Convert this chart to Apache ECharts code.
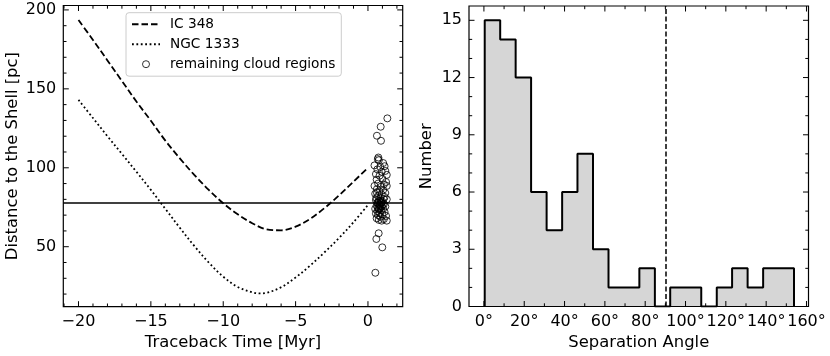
<!DOCTYPE html>
<html>
<head>
<meta charset="utf-8">
<script src="https://cdn.jsdelivr.net/npm/echarts@6/dist/echarts.min.js"></script>
<style>
  html, body { margin: 0; padding: 0; background: #fff; }
  #chart { width: 830px; height: 356px; }
</style>
</head>
<body>
<div id="chart"></div>
<script>
// --- left panel: traceback curves ---
const icTime   = [-20, -19, -18, -17, -16, -15, -14, -13, -12, -11, -10, -9, -8, -7, -6, -5, -4, -3, -2, -1, 0];
const ic348    = [193.6, 181, 168, 155, 142, 129.8, 117.2, 106, 95.5, 86, 77.5, 70.5, 64.9, 61, 60.4, 62.7, 67.6, 74.5, 82.5, 91.2, 100];
const ngcTime  = [-20, -19, -18, -17, -16, -15, -14, -13, -12, -11, -10, -9, -8, -7.5, -7, -6, -5, -4, -3, -2, -1, 0];
const ngc1333  = [143, 131.5, 120, 108.8, 97.5, 86, 74, 62, 50.5, 40, 31, 24.5, 21.2, 20.4, 20.8, 24.3, 30.5, 38, 46.5, 55.5, 65.5, 76.5];
const shellLevel = 78;

// remaining cloud regions (time, distance)
const cloudT = [1.34, 0.88, 0.62, 0.90, 0.51, 0.99, 0.58, 0.74,
  0.72, 0.68, 0.75, 0.45, 1.05, 1.15, 0.85, 0.65, 1.20, 0.95, 0.55, 1.30, 0.80, 1.00, 0.60, 1.25,
  0.70, 1.10, 0.45, 0.90, 1.30, 0.62, 1.05, 0.80, 1.20, 0.50, 0.95, 0.70, 1.15, 0.85, 1.30, 0.55,
  0.75, 1.00, 0.65, 0.90, 1.10, 0.80, 0.60, 0.95, 0.70, 1.20, 0.85, 0.50, 1.05, 0.75, 0.90, 0.65,
  1.15, 0.80, 0.55, 1.00, 0.70, 1.25, 0.85, 0.60, 1.10, 0.75, 0.95, 1.30, 0.68, 0.78, 0.88, 0.72,
  0.82, 0.92, 1.02, 0.58, 1.08, 0.62];
const cloudD = [131.3, 126, 120.3, 117.1, 33.5, 49.6, 54.9, 58.5,
  106.5, 105.5, 104.8, 101.5, 103, 101, 100.5, 99, 98, 97.5, 96, 95.5, 95, 93, 92.5, 91,
  90, 89.5, 88.5, 88, 88.5, 86.5, 86, 85, 84, 83.5, 83, 82, 81.5, 80.5, 80, 79.5,
  79, 78.5, 78, 77.5, 77, 76.5, 76, 75.5, 75, 75.5, 74.5, 74, 74, 73.5, 73, 72.5,
  72, 71.5, 71, 70.5, 70, 69.5, 69, 68, 67.5, 67, 66.5, 66.5, 77.8, 78.6, 79.2, 74.2,
  76, 78.2, 76.8, 80.8, 80.2, 84.2];

// --- right panel: separation angle histogram ---
const binEdges = [0.4, 8.07, 15.74, 23.4, 31.1, 38.8, 46.4, 54.1, 61.8, 69.4, 77.1,
  84.8, 92.4, 100.1, 107.8, 115.5, 123.1, 130.8, 138.5, 146.1, 153.8];
const binCounts = [15, 14, 12, 6, 4, 6, 8, 3, 1, 1, 2, 0, 1, 1, 0, 1, 2, 1, 2, 2];
const splitAngle = 90;

// tick values
const leftXMajor  = [-20, -15, -10, -5, 0];
const leftYMajor  = [50, 100, 150, 200];
const rightXMajor = [0, 20, 40, 60, 80, 100, 120, 140, 160];
const rightYMajor = [0, 3, 6, 9, 12, 15];

const FONT = 'DejaVu Sans';
const MAJOR_LEN = 5.5, MINOR_LEN = 3.2;

const LX = [-21.05, 2.4], LY = [12, 202.8];
const RX = [-7.4, 161], RY = [0, 15.75];

function minorsOf(min, max, step, majors) {
  const out = [];
  for (let v = Math.ceil(min / step) * step; v <= max + 1e-9; v += step) {
    const r = Math.round(v * 1000) / 1000;
    if (!majors.some(m => Math.abs(m - r) < 1e-6)) out.push(r);
  }
  return out;
}

const minusFmt = v => (v < 0 ? '\u2212' + Math.abs(v) : String(v));

// tick list for the frame series: [value, kind (0 = x, 1 = y, 2 = frame), length]
function tickList(xMaj, xMin, yMaj, yMin) {
  const out = [[0, 2, 0]];
  xMaj.forEach(v => out.push([v, 0, MAJOR_LEN]));
  xMin.forEach(v => out.push([v, 0, MINOR_LEN]));
  yMaj.forEach(v => out.push([v, 1, MAJOR_LEN]));
  yMin.forEach(v => out.push([v, 1, MINOR_LEN]));
  return out;
}

const leftTicks = tickList(leftXMajor, minorsOf(LX[0], LX[1], 1, leftXMajor),
                           leftYMajor, minorsOf(LY[0], LY[1], 10, leftYMajor));
const rightTicks = tickList(rightXMajor, minorsOf(RX[0], RX[1], 10, rightXMajor),
                            rightYMajor, minorsOf(RY[0], RY[1], 1, rightYMajor));

// spines + inward ticks on all four sides
function renderFrame(params, api) {
  const cs = params.coordSys;
  const kind = api.value(1);
  const st = { stroke: '#000', lineWidth: 1, fill: null };
  if (kind === 2) {
    return { type: 'rect', shape: { x: cs.x, y: cs.y, width: cs.width, height: cs.height },
             style: { stroke: '#000', lineWidth: 1.2, fill: null } };
  }
  const v = api.value(0), len = api.value(2);
  const bottom = cs.y + cs.height, right = cs.x + cs.width;
  if (kind === 0) {
    const px = api.coord([v, 0])[0];
    return { type: 'group', children: [
      { type: 'line', shape: { x1: px, y1: bottom, x2: px, y2: bottom - len }, style: st },
      { type: 'line', shape: { x1: px, y1: cs.y, x2: px, y2: cs.y + len }, style: st }
    ] };
  }
  const py = api.coord([0, v])[1];
  return { type: 'group', children: [
    { type: 'line', shape: { x1: cs.x, y1: py, x2: cs.x + len, y2: py }, style: st },
    { type: 'line', shape: { x1: right, y1: py, x2: right - len, y2: py }, style: st }
  ] };
}

function xAxisOf(grid, range, majors, name, fmt) {
  return {
    type: 'value', gridIndex: grid, min: range[0], max: range[1],
    splitLine: { show: false }, axisLine: { show: false, onZero: false }, axisTick: { show: false },
    name: name, nameLocation: 'middle', nameGap: 27,
    nameTextStyle: { fontFamily: FONT, fontSize: 16.4, color: '#000' },
    axisLabel: { customValues: majors, formatter: fmt, margin: 7, fontFamily: FONT, fontSize: 16, color: '#000' }
  };
}
function yAxisOf(grid, range, majors, name, gap, fmt) {
  return {
    type: 'value', gridIndex: grid, min: range[0], max: range[1],
    splitLine: { show: false }, axisLine: { show: false, onZero: false }, axisTick: { show: false },
    name: name, nameLocation: 'middle', nameGap: gap,
    nameTextStyle: { fontFamily: FONT, fontSize: 16.4, color: '#000' },
    axisLabel: { customValues: majors, formatter: fmt, margin: 7, fontFamily: FONT, fontSize: 16, color: '#000' }
  };
}

// step outline for the histogram
const histData = [[binEdges[0], 0]];
binCounts.forEach((c, i) => histData.push([binEdges[i], c]));
histData.push([binEdges[binEdges.length - 1], binCounts[binCounts.length - 1]]);
histData.push([binEdges[binEdges.length - 1], 0]);

const chart = echarts.init(document.getElementById('chart'), null, { renderer: 'canvas' });

chart.setOption({
  animation: false,
  backgroundColor: '#fff',
  textStyle: { fontFamily: FONT },
  grid: [
    { left: 63.3, top: 5.5, width: 339.4, height: 301.2 },
    { left: 469, top: 6, width: 339.5, height: 300.5 }
  ],
  xAxis: [
    xAxisOf(0, LX, leftXMajor, 'Traceback Time [Myr]', minusFmt),
    xAxisOf(1, RX, rightXMajor, 'Separation Angle', v => v + '°')
  ],
  yAxis: [
    yAxisOf(0, LY, leftYMajor, 'Distance to the Shell [pc]', 43, minusFmt),
    yAxisOf(1, RY, rightYMajor, 'Number', 34, v => String(v))
  ],
  legend: {
    orient: 'vertical',
    left: 126, top: 12.7,
    padding: [3.5, 6, 4, 5],
    itemGap: 4,
    itemWidth: 28, itemHeight: 7,
    backgroundColor: '#fff',
    borderColor: '#cccccc', borderWidth: 1, borderRadius: 3,
    textStyle: { fontFamily: FONT, fontSize: 13.7, color: '#000', lineHeight: 16, padding: [0, 0, 0, 5] },
    data: [
      { name: 'IC 348', itemStyle: { color: 'rgba(0,0,0,0)', borderWidth: 0, opacity: 0 } },
      { name: 'NGC 1333', itemStyle: { color: 'rgba(0,0,0,0)', borderWidth: 0, opacity: 0 } },
      { name: 'remaining cloud regions', icon: 'circle',
        itemStyle: { color: 'rgba(0,0,0,0)', borderColor: '#000', borderWidth: 1 } }
    ]
  },
  series: [
    {
      name: 'IC 348', type: 'line', xAxisIndex: 0, yAxisIndex: 0,
      data: icTime.map((t, i) => [t, ic348[i]]),
      showSymbol: false, symbol: 'none', smooth: 0.35,
      itemStyle: { color: '#000' },
      lineStyle: { color: '#000', width: 1.8, type: [6.5, 3] },
      markLine: {
        silent: true, symbol: 'none', label: { show: false },
        lineStyle: { color: '#000', width: 1.5, type: 'solid' },
        data: [{ yAxis: shellLevel }]
      }
    },
    {
      name: 'NGC 1333', type: 'line', xAxisIndex: 0, yAxisIndex: 0,
      data: ngcTime.map((t, i) => [t, ngc1333[i]]),
      showSymbol: false, symbol: 'none', smooth: 0.35,
      itemStyle: { color: '#000' },
      lineStyle: { color: '#000', width: 1.8, type: [1.8, 2.6] }
    },
    {
      name: 'remaining cloud regions', type: 'scatter', xAxisIndex: 0, yAxisIndex: 0,
      data: cloudT.map((t, i) => [t, cloudD[i]]),
      symbol: 'circle', symbolSize: 7,
      itemStyle: { color: 'rgba(0,0,0,0)', borderColor: '#000', borderWidth: 1 }
    },
    {
      name: 'hist', type: 'line', xAxisIndex: 1, yAxisIndex: 1,
      data: histData, step: 'end',
      showSymbol: false, symbol: 'none',
      lineStyle: { color: '#000', width: 2 },
      areaStyle: { color: '#d6d6d6', opacity: 1 },
      markLine: {
        silent: true, symbol: 'none', label: { show: false },
        lineStyle: { color: '#000', width: 1.5, type: [5, 2.5] },
        data: [{ xAxis: splitAngle }]
      }
    },
    {
      name: 'frameL', type: 'custom', xAxisIndex: 0, yAxisIndex: 0,
      data: leftTicks, renderItem: renderFrame, silent: true, z: 10, clip: false
    },
    {
      name: 'frameR', type: 'custom', xAxisIndex: 1, yAxisIndex: 1,
      data: rightTicks, renderItem: renderFrame, silent: true, z: 10, clip: false
    }
  ]
});
</script>
</body>
</html>
